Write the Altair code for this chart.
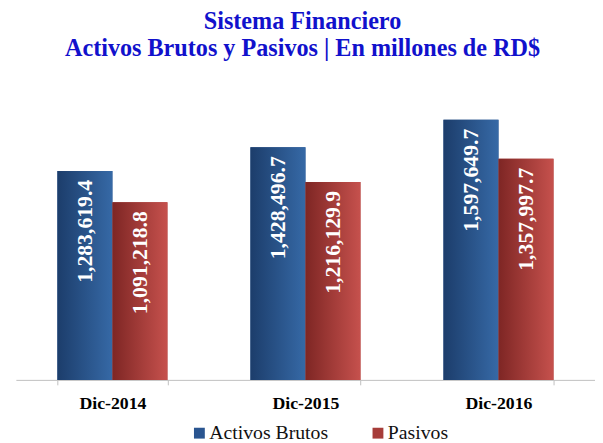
import altair as alt
import pandas as pd

years = ["Dic-2014", "Dic-2015", "Dic-2016"]
series = ["Activos Brutos", "Pasivos"]
activos = [1283619.4, 1428496.7, 1597649.7]
pasivos = [1091218.8, 1216129.9, 1357997.7]

rows = []
for i, y in enumerate(years):
    rows.append({"year": y, "serie": series[0], "value": activos[i]})
    rows.append({"year": y, "serie": series[1], "value": pasivos[i]})
df = pd.DataFrame(rows)

SERIF = "Liberation Serif"

blue_grad = alt.Gradient(
    gradient="linear",
    stops=[alt.GradientStop(color="#1C3D6B", offset=0),
           alt.GradientStop(color="#3669A6", offset=1)],
    x1=0, x2=1, y1=0, y2=0,
)
red_grad = alt.Gradient(
    gradient="linear",
    stops=[alt.GradientStop(color="#7E2624", offset=0),
           alt.GradientStop(color="#C6514D", offset=1)],
    x1=0, x2=1, y1=0, y2=0,
)

x_enc = alt.X(
    "year:N", sort=years, title=None,
    scale=alt.Scale(paddingInner=0.43, paddingOuter=0.215),
    axis=alt.Axis(
        labelAngle=0, labelFont=SERIF, labelFontWeight="bold", labelFontSize=18,
        labelColor="#000000", domainColor="#BFBFBF", tickColor="#BFBFBF",
        tickSize=5, tickBand="extent", labelPadding=10, grid=False,
    ),
)
xo_enc = alt.XOffset("serie:N", sort=series, scale=alt.Scale(domain=series))
y_enc = alt.Y("value:Q", scale=alt.Scale(domain=[0, 1800000]), axis=None)

base = alt.Chart(df)

legend_bars = base.mark_bar().encode(
    x=x_enc, xOffset=xo_enc, y=y_enc,
    color=alt.Color(
        "serie:N",
        scale=alt.Scale(domain=series, range=["#2A5590", "#A63C39"]),
        legend=alt.Legend(
            title=None, orient="none", direction="horizontal",
            legendX=176, legendY=341, symbolType="square", symbolSize=121,
            symbolStrokeWidth=0, labelFont=SERIF, labelFontSize=20,
            labelFontWeight="normal",
            labelColor="#111111", columnPadding=40, labelOffset=0, padding=0,
        ),
    ),
)

blue_bars = base.transform_filter(alt.datum.serie == series[0]).mark_bar(
    color=blue_grad
).encode(x=x_enc, xOffset=xo_enc, y=y_enc)

red_bars = base.transform_filter(alt.datum.serie == series[1]).mark_bar(
    color=red_grad
).encode(x=x_enc, xOffset=xo_enc, y=y_enc)

labels = base.mark_text(
    angle=270, align="right", baseline="middle", dx=-9,
    font=SERIF, fontWeight="bold", fontSize=22, color="white",
).encode(
    x=x_enc, xOffset=xo_enc, y=y_enc,
    text=alt.Text("value:Q", format=",.1f"),
)

chart = alt.layer(legend_bars, blue_bars, red_bars, labels).properties(
    width=587, height=297,
    title=alt.Title(
        text=["Sistema Financiero", "Activos Brutos y Pasivos | En millones de RD$"],
        font=SERIF, fontWeight="bold", fontSize=24.5, color="#1111CC",
        anchor="middle", lineHeight=27, offset=26, dx=-3,
    ),
    autosize=alt.AutoSizeParams(type="none"),
    padding={"left": 8, "top": 77, "right": 0, "bottom": 61},
).configure(
    font=SERIF, background="white"
).configure_view(
    stroke="transparent", strokeWidth=0
).configure_legend(
    labelFont=SERIF, labelFontSize=20
)

chart.save("out.html", embed_options={"renderer": "svg", "actions": False})
